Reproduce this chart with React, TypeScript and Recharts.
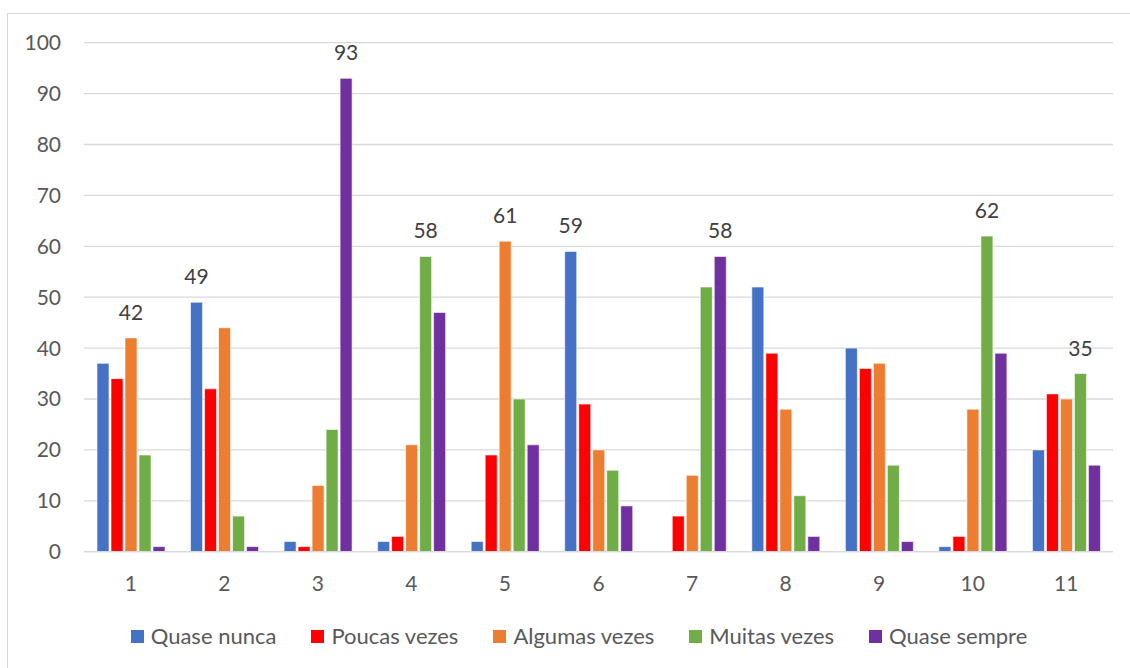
import React from "react";
import { BarChart, Bar, XAxis, YAxis, CartesianGrid, LabelList } from "recharts";

const categories = ["1", "2", "3", "4", "5", "6", "7", "8", "9", "10", "11"];

const quaseNunca = [37, 49, 2, 2, 2, 59, 0, 52, 40, 1, 20];
const poucasVezes = [34, 32, 1, 3, 19, 29, 7, 39, 36, 3, 31];
const algumasVezes = [42, 44, 13, 21, 61, 20, 15, 28, 37, 28, 30];
const muitasVezes = [19, 7, 24, 58, 30, 16, 52, 11, 17, 62, 35];
const quaseSempre = [1, 1, 93, 47, 21, 9, 58, 3, 2, 39, 17];

const yTicks = [0, 10, 20, 30, 40, 50, 60, 70, 80, 90, 100];

const series = [
  { key: "qn", name: "Quase nunca", color: "#4472C4", values: quaseNunca },
  { key: "pv", name: "Poucas vezes", color: "#FF0000", values: poucasVezes },
  { key: "av", name: "Algumas vezes", color: "#ED7D31", values: algumasVezes },
  { key: "mv", name: "Muitas vezes", color: "#70AD47", values: muitasVezes },
  { key: "qs", name: "Quase sempre", color: "#7030A0", values: quaseSempre },
];

const data = categories.map((c, i) => {
  const row: Record<string, number | string> = { cat: c };
  series.forEach((s) => {
    row[s.key] = s.values[i];
  });
  return row;
});

// highest value in each group gets a data label
const groupMax = categories.map((_, i) => Math.max(...series.map((s) => s.values[i])));

const FONT = "Lato, 'Noto Sans', sans-serif";

const makeLabel = (seriesKey: string) => (props: any) => {
  const { x, y, width, index, value } = props;
  if (value !== groupMax[index]) return null;
  return (
    <text
      key={`${seriesKey}-${index}`}
      x={Number(x) + Number(width) / 2}
      y={Number(y) - 18}
      textAnchor="middle"
      fill="#404040"
      fontSize={21}
      fontFamily={FONT}
    >
      {value}
    </text>
  );
};

export default function App() {
  return (
    <div
      style={{
        position: "absolute",
        left: 0,
        top: 0,
        width: 1130,
        height: 668,
        overflow: "hidden",
        background: "#fff",
        fontFamily: FONT,
      }}
    >
      <div
        style={{
          position: "absolute",
          left: 7,
          top: 13,
          width: 1200,
          height: 800,
          border: "1.5px solid #d9d9d9",
        }}
      />
      <div style={{ position: "absolute", left: 0, top: 0 }}>
        <BarChart
          width={1130}
          height={668}
          data={data}
          margin={{ top: 42.7, right: 17, left: 0, bottom: 0 }}
          barSize={12}
          barGap={2}
        >
          <CartesianGrid vertical={false} stroke="#d9d9d9" strokeWidth={1.3} />
          <XAxis
            dataKey="cat"
            height={116.3}
            tickLine={false}
            tickSize={0}
            tickMargin={24}
            axisLine={{ stroke: "#d9d9d9", strokeWidth: 1.3 }}
            tick={{ fill: "#595959", fontSize: 21, fontFamily: FONT }}
            interval={0}
          />
          <YAxis
            width={84}
            domain={[0, 100]}
            ticks={yTicks}
            interval={0}
            tickLine={false}
            axisLine={false}
            tickSize={0}
            tickMargin={23}
            tick={{ fill: "#595959", fontSize: 21, fontFamily: FONT }}
          />
          {series.map((s) => (
            <Bar
              key={s.key}
              dataKey={s.key}
              name={s.name}
              fill={s.color}
              stroke="#ffffff"
              strokeWidth={0.6}
              isAnimationActive={false}
            >
              <LabelList dataKey={s.key} content={makeLabel(s.key)} />
            </Bar>
          ))}
        </BarChart>
      </div>
      <div
        style={{
          position: "absolute",
          left: 0,
          width: 1158,
          top: 621,
          display: "flex",
          justifyContent: "center",
          gap: 35,
          fontSize: 22,
          color: "#595959",
          lineHeight: "30px",
        }}
      >
        {series.map((s) => (
          <div key={s.key} style={{ display: "flex", alignItems: "center" }}>
            <span
              style={{
                display: "inline-block",
                width: 13,
                height: 13,
                background: s.color,
                marginRight: 7,
              }}
            />
            <span>{s.name}</span>
          </div>
        ))}
      </div>
    </div>
  );
}
